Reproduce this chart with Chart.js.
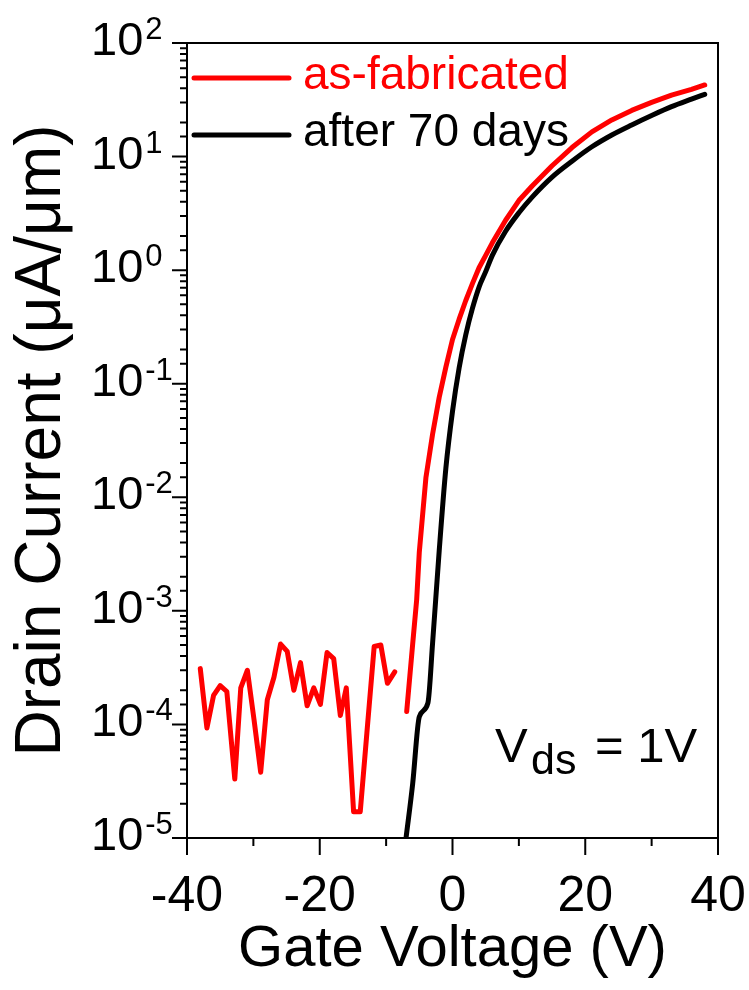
<!DOCTYPE html>
<html>
<head>
<meta charset="utf-8">
<script src="https://cdn.jsdelivr.net/npm/chart.js@4/dist/chart.umd.min.js"></script>
<style>
  body { margin: 0; background: #fff; }
  canvas { display: block; }
</style>
</head>
<body>
<canvas id="chart-1" width="749" height="990"></canvas>
<script>
// gate voltage (V) and drain current (uA/um)
var asFabV = [-38, -37, -36, -35, -34, -32.8, -31.9, -30.9, -29.9, -28.9, -27.9, -26.9, -25.9, -24.9, -23.9,
    -22.9, -21.9, -20.9, -19.9, -18.9, -17.9, -16.9, -16.0, -14.9, -13.9, -12.9, -11.8, -10.8, -9.8, -8.7,
    -8, -6.9, -6, -5.4, -5, -4, -3, -2, -1, 0, 1, 2, 3, 4, 5, 6, 8, 10, 12, 15, 18, 21, 24, 27, 30, 33, 36, 38];
var asFabI = [3.1e-4, 9.3e-5, 1.8e-4, 2.2e-4, 1.95e-4, 3.3e-5, 2.1e-4, 3.0e-4, 1.1e-4, 3.8e-5, 1.65e-4, 2.6e-4, 5.1e-4, 4.4e-4, 2.0e-4,
    3.5e-4, 1.46e-4, 2.1e-4, 1.5e-4, 4.3e-4, 3.8e-4, 1.2e-4, 2.1e-4, 1.7e-5, 1.7e-5, 8.4e-5, 4.85e-4, 5.0e-4, 2.3e-4, 2.9e-4,
    null, 1.3e-4, 5.1e-4, 1.25e-3, 3.3e-3, 0.015, 0.036, 0.076, 0.14, 0.245, 0.37, 0.54, 0.76, 1.05, 1.35, 1.74, 2.75, 4.1, 5.5, 8.3, 12, 16.5, 21, 25.5, 30, 34.7, 39, 42.7];

var after70V = [-7, -6, -5, -3.7, -3, -2, -1, 0, 1, 2, 3, 4, 5, 6, 8, 10, 12, 15, 18, 21, 24, 27, 30, 33, 36, 38];
var after70I = [1e-5, 3.0e-5, 1.17e-4, 1.55e-4, 5.2e-4, 3.4e-3, 0.018, 0.057, 0.138, 0.27, 0.46, 0.71, 0.97, 1.35, 2.2, 3.2, 4.4, 6.6, 9.1, 12.2, 15.5, 19, 23, 27.5, 32, 35.3];

var seriesLabels = ["as-fabricated", "after 70 days"];
var xTicks = [-40, -20, 0, 20, 40];

var FONT = "'Liberation Sans', Arial, sans-serif";

function toPoints(xs, ys) {
    var pts = [];
    for (let i = 0; i < xs.length; i++) {
        pts.push({ x: xs[i], y: ys[i] });
    }
    return pts;
}

// frame, tick marks, 10^n labels, legend and the Vds note
var decorations = {
    id: "decorations",
    afterDraw: function(chart) {
        const ctx = chart.ctx;
        const a = chart.chartArea;
        const xs = chart.scales.x;
        const ys = chart.scales.y;
        ctx.save();
        ctx.strokeStyle = "#000";
        ctx.lineWidth = 2;
        ctx.strokeRect(a.left, a.top, a.right - a.left, a.bottom - a.top);

        ctx.beginPath();
        xs.ticks.forEach(function(t) {
            const px = xs.getPixelForValue(t.value);
            const len = xTicks.indexOf(t.value) >= 0 ? 17 : 8;
            ctx.moveTo(px, a.bottom);
            ctx.lineTo(px, a.bottom + len);
        });
        ys.ticks.forEach(function(t) {
            const py = ys.getPixelForValue(t.value);
            const e = Math.log10(t.value);
            const major = Math.abs(e - Math.round(e)) < 1e-6;
            ctx.moveTo(a.left - (major ? 15 : 7), py);
            ctx.lineTo(a.left, py);
        });
        ctx.stroke();

        // y tick labels with superscript exponents
        ctx.fillStyle = "#000";
        ys.ticks.forEach(function(t) {
            const e = Math.log10(t.value);
            if (Math.abs(e - Math.round(e)) > 1e-6) return;
            const py = ys.getPixelForValue(t.value);
            ctx.font = "47px " + FONT;
            ctx.textAlign = "left";
            ctx.textBaseline = "middle";
            ctx.fillText("10", 91, py - 1);
            const w = ctx.measureText("10").width;
            ctx.font = "31px " + FONT;
            ctx.textBaseline = "alphabetic";
            ctx.fillText(String(Math.round(e)), 91 + w + 2, py - 4);
        });

        // legend inside the plot
        const legendRows = [78, 135];
        chart.data.datasets.forEach(function(ds, i) {
            const y = legendRows[i];
            ctx.strokeStyle = ds.borderColor;
            ctx.lineWidth = 5;
            ctx.lineCap = "round";
            ctx.beginPath();
            ctx.moveTo(194, y);
            ctx.lineTo(289, y);
            ctx.stroke();
            ctx.fillStyle = ds.borderColor;
            ctx.font = "46px " + FONT;
            ctx.textBaseline = "middle";
            ctx.fillText(ds.label, 303, y - 2);
        });

        // Vds = 1V
        ctx.fillStyle = "#000";
        ctx.textBaseline = "alphabetic";
        ctx.font = "49px " + FONT;
        ctx.fillText("V", 495, 762);
        ctx.font = "43px " + FONT;
        ctx.fillText("ds", 531, 774);
        ctx.font = "49px " + FONT;
        ctx.fillText("= 1V", 595, 762);
        ctx.restore();
    }
};

const ctx = document.getElementById("chart-1").getContext("2d");
const myChart = new Chart(ctx, {
    type: "line",
    data: {
        datasets: [{
            label: seriesLabels[0],
            data: toPoints(asFabV, asFabI),
            borderColor: "rgb(255, 0, 0)",
            backgroundColor: "rgb(255, 0, 0)",
            borderWidth: 5,
            borderJoinStyle: "round",
            borderCapStyle: "round",
            pointRadius: 0,
            spanGaps: false,
            tension: 0,
        }, {
            label: seriesLabels[1],
            data: toPoints(after70V, after70I),
            borderColor: "rgb(0, 0, 0)",
            backgroundColor: "rgb(0, 0, 0)",
            borderWidth: 5,
            borderJoinStyle: "round",
            borderCapStyle: "round",
            pointRadius: 0,
            cubicInterpolationMode: "monotone",
        }],
    },
    options: {
        responsive: false,
        animation: false,
        layout: {
            padding: { top: 43, right: 31, left: 0, bottom: 0 }
        },
        plugins: {
            legend: { display: false },
            tooltip: { enabled: false },
        },
        scales: {
            x: {
                type: "linear",
                min: -40,
                max: 40,
                afterFit: function(s) {
                    s.height = 152;
                    s.paddingLeft = 0;
                    s.paddingRight = 0;
                },
                grid: { display: false, drawTicks: false },
                border: { display: false },
                ticks: {
                    stepSize: 10,
                    autoSkip: false,
                    maxRotation: 0,
                    padding: 29,
                    color: "#000",
                    font: { family: FONT, size: 50 },
                    callback: function(v) { return xTicks.indexOf(v) >= 0 ? String(v) : ""; },
                },
                title: {
                    display: true,
                    text: "Gate Voltage (V)",
                    color: "#000",
                    font: { family: FONT, size: 58 },
                    padding: { top: 0, bottom: 5 },
                },
            },
            y: {
                type: "logarithmic",
                min: 1e-5,
                max: 100,
                afterFit: function(s) { s.width = 187; },
                grid: { display: false, drawTicks: false },
                border: { display: false },
                ticks: { display: false },
                title: {
                    display: true,
                    text: "Drain Current (μA/μm)",
                    color: "#000",
                    font: { family: FONT, size: 64 },
                    padding: { top: 4, bottom: 0 },
                },
            },
        },
    },
    plugins: [decorations],
});
</script>
</body>
</html>
